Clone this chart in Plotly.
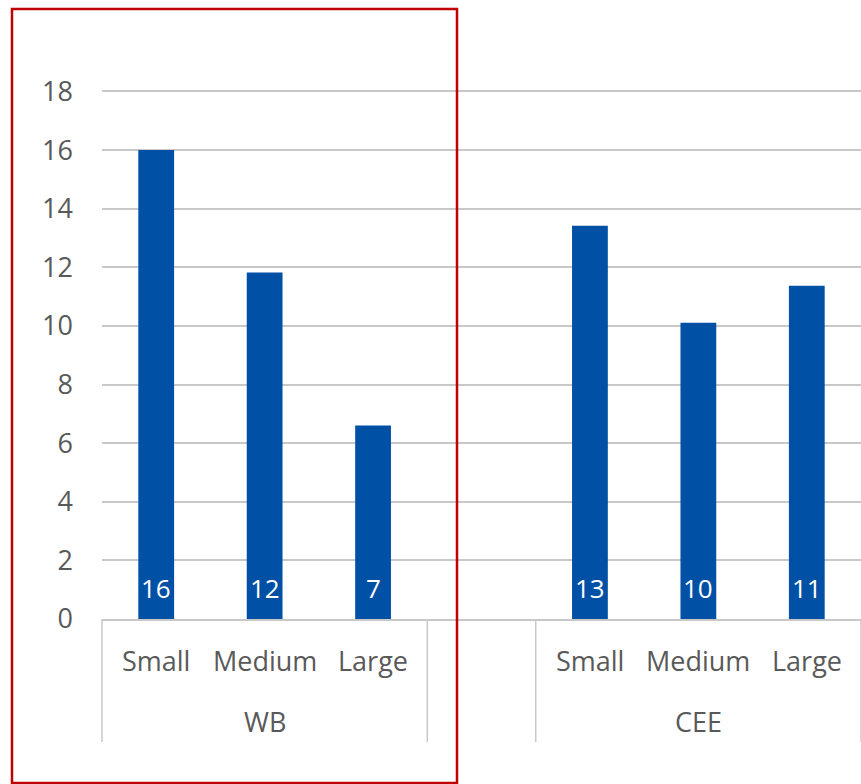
import plotly.graph_objects as go

groups = ["WB", "WB", "WB", "CEE", "CEE", "CEE"]
sizes = ["Small", "Medium", "Large", "Small", "Medium", "Large"]
values = [16.0, 11.82, 6.6, 13.42, 10.11, 11.37]
group_names = ["WB", "", "CEE"]
y_ticks = [0, 2, 4, 6, 8, 10, 12, 14, 16, 18]

# slot positions: 3 WB slots, one blank slot, 3 CEE slots
positions = [0, 1, 2, 4, 5, 6]
group_slots = [(0, 2), (3, 3), (4, 6)]
xmin, xmax = -0.5, 6.5

FONT = "Open Sans"
GRAY = "#595959"
LINE = "#c8c8c8"
FS = 27

fig = go.Figure()
fig.add_trace(go.Bar(
    x=positions, y=values, width=0.33,
    marker=dict(color="#0050a5", line=dict(width=0)),
    hoverinfo="skip",
))

annotations = []
for p, v in zip(positions, values):
    annotations.append(dict(x=p, y=0, xref="x", yref="y", text=f"{v:.0f}",
                            showarrow=False, yanchor="bottom", yshift=11,
                            font=dict(family=FONT, size=FS - 1, color="white")))
for p, s in zip(positions, sizes):
    annotations.append(dict(x=p, y=-0.079, xref="x", yref="paper", text=s,
                            showarrow=False, yanchor="middle",
                            font=dict(family=FONT, size=FS, color=GRAY)))
for (a, b), g in zip(group_slots, group_names):
    if g:
        annotations.append(dict(x=(a + b) / 2, y=-0.193, xref="x", yref="paper", text=g,
                                showarrow=False, yanchor="middle",
                                font=dict(family=FONT, size=FS, color=GRAY)))

def xp(v):
    return (v - xmin) / (xmax - xmin)

PH = 529
shapes = []
bounds = [group_slots[0][0] - 0.5] + [b + 0.5 for a, b in group_slots]
for bx in bounds:
    shapes.append(dict(type="line", xref="paper", yref="paper",
                       x0=xp(bx), x1=xp(bx), y0=0, y1=-(742 - 619) / PH,
                       line=dict(color=LINE, width=1.5)))
# red highlight box around WB group
shapes.append(dict(type="rect", xref="paper", yref="paper",
                   x0=(12 - 102) / 759, x1=(457 - 102) / 759,
                   y0=(619 - 783) / PH, y1=(619 - 9) / PH,
                   line=dict(color="#c00000", width=2.5), fillcolor="rgba(0,0,0,0)"))

fig.update_layout(
    width=861, height=784,
    margin=dict(l=102, r=0, t=90, b=165),
    paper_bgcolor="white", plot_bgcolor="white",
    showlegend=False,
    xaxis=dict(range=[xmin, xmax], showticklabels=False, showgrid=False,
               zeroline=False, showline=True, linecolor=LINE, linewidth=1.5, ticks=""),
    yaxis=dict(range=[0, 18.05], tickvals=y_ticks, showgrid=True, gridcolor=LINE,
               gridwidth=1.5, zeroline=False, showline=False, ticks="",
               ticklabelstandoff=28,
               tickfont=dict(family=FONT, size=FS, color=GRAY)),
    annotations=annotations, shapes=shapes,
    font=dict(family=FONT),
)

fig.write_html("out.html")
